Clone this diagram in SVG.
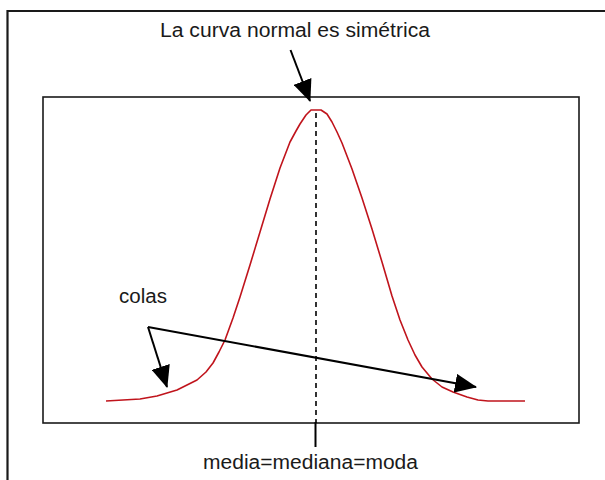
<svg xmlns="http://www.w3.org/2000/svg" width="605" height="480" viewBox="0 0 605 480">
  <style>
    .lbl { font-family: "Liberation Sans", Arial, sans-serif; font-size: 20px; fill: #1a1a1a; }
    .frame { fill: none; stroke: #1a1a1a; }
    .arrow { fill: none; stroke: #000; stroke-width: 2; }
    .curve { fill: none; stroke: #c0141c; stroke-width: 1.6; stroke-linejoin: round; }
  </style>
  <defs>
    <marker id="head" markerUnits="userSpaceOnUse" markerWidth="22" markerHeight="19" refX="21" refY="9.5" orient="auto">
      <path d="M0,0 L22,9.5 L0,19 Z" fill="#000"/>
    </marker>
  </defs>
  <rect x="0" y="0" width="605" height="480" fill="#fff"/>
  <g id="outer-frame">
    <path class="frame" d="M7.5,484 V11 H610" stroke-width="2.2"/>
  </g>
  <g id="plot-frame">
    <rect class="frame" x="43" y="97" width="536" height="326" stroke-width="1.6"/>
  </g>
  <g id="normal-curve">
    <polyline class="curve" points="106,401 140,399 157,396 177,390 197,380 206,372 213,363 219,352 225,340 233,318 240,297 250,265 260,232 270,199 280,168 290,142 296,131 300,124 306,115 311,110 321,110 327,114 332,122 337,132 342,143 352,169 362,198 372,229 382,262 392,296 400,320 408,340 415,355 422,367 432,379 442,387 453,392 467,397 478,400 488,401 525,401"/>
  </g>
  <g id="center-line">
    <line x1="316" y1="113" x2="316" y2="423" stroke="#000" stroke-width="1.6" stroke-dasharray="5,4"/>
    <line x1="315.5" y1="422" x2="315.5" y2="447" stroke="#000" stroke-width="2"/>
  </g>
  <g id="title">
    <text class="lbl" x="160" y="37" textLength="270" lengthAdjust="spacingAndGlyphs">La curva normal es simétrica</text>
  </g>
  <g id="colas">
    <text class="lbl" x="119" y="303" textLength="48" lengthAdjust="spacingAndGlyphs">colas</text>
  </g>
  <g id="media">
    <text class="lbl" x="203" y="469" textLength="215" lengthAdjust="spacingAndGlyphs">media=mediana=moda</text>
  </g>
  <g id="connectors">
    <line class="arrow" x1="290.5" y1="50" x2="310" y2="101" marker-end="url(#head)"/>
    <line class="arrow" x1="148" y1="327" x2="167" y2="387" marker-end="url(#head)"/>
    <line class="arrow" x1="148" y1="327" x2="476" y2="387" marker-end="url(#head)"/>
  </g>
</svg>
